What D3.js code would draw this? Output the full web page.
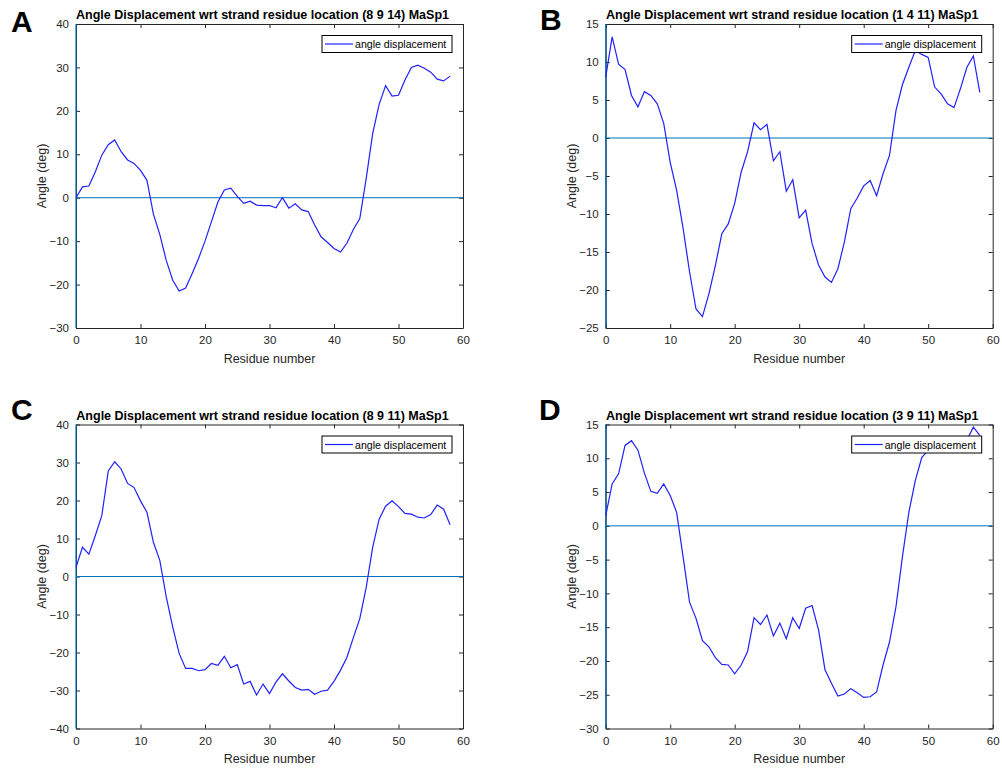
<!DOCTYPE html>
<html>
<head>
<meta charset="utf-8">
<script src="https://cdn.jsdelivr.net/npm/d3@7"></script>
<style>
  body { margin: 0; background: #fff; }
  svg { font-family: "Liberation Sans", Arial, sans-serif; }
</style>
</head>
<body>
<svg width="1002" height="769"></svg>
<script>
// residue index 0..58
const residues = d3.range(0, 59);

const angleA = [0, 2.5, 2.7, 6.0, 9.8, 12.2, 13.3, 10.6, 8.7, 7.9,
  6.3, 4.0, -3.8, -8.5, -14.5, -19.0, -21.5, -20.8, -17.5, -14.0,
  -10.0, -5.5, -1.0, 1.8, 2.2, 0.3, -1.3, -0.8, -1.7, -1.8,
  -1.8, -2.3, 0, -2.4, -1.4, -2.8, -3.2, -6.3, -9.0, -10.3,
  -11.7, -12.5, -10.5, -7.3, -4.8, 4.5, 14.8, 21.5, 25.8, 23.4,
  23.6, 27.1, 30.0, 30.5, 29.8, 28.9, 27.3, 26.9, 28.0];

const angleB = [8.0, 13.3, 9.7, 9.0, 5.6, 4.1, 6.1, 5.6, 4.5, 1.9,
  -3.2, -6.9, -11.9, -17.6, -22.5, -23.5, -20.5, -16.8, -12.6, -11.3,
  -8.6, -4.5, -1.8, 2.0, 1.1, 1.8, -3.0, -1.8, -7.0, -5.5,
  -10.5, -9.5, -13.9, -16.7, -18.3, -19.0, -17.2, -13.7, -9.3, -7.9,
  -6.3, -5.6, -7.6, -4.7, -2.3, 3.6, 7.0, 9.3, 11.5, 11.0,
  10.6, 6.7, 5.8, 4.5, 4.0, 6.5, 9.3, 10.8, 6.0];

const angleC = [2.4, 7.7, 5.9, 10.8, 16.0, 27.8, 30.2, 28.3, 24.5, 23.4,
  19.9, 16.9, 9.0, 4.2, -5.4, -13.3, -20.3, -24.2, -24.2, -24.8,
  -24.5, -22.9, -23.4, -21.0, -24.0, -23.2, -28.3, -27.6, -31.2, -28.3,
  -30.8, -27.8, -25.6, -27.5, -29.2, -29.9, -29.7, -31.0, -30.2, -29.9,
  -27.6, -24.7, -21.3, -16.1, -11.1, -2.8, 7.7, 15.1, 18.5, 19.9,
  18.4, 16.6, 16.4, 15.6, 15.4, 16.3, 18.8, 17.7, 13.6];

const angleD = [1.5, 6.2, 7.7, 11.9, 12.6, 11.2, 7.8, 5.1, 4.8, 6.2,
  4.5, 2.0, -4.6, -11.3, -13.7, -17.0, -17.9, -19.5, -20.5, -20.6,
  -21.9, -20.6, -18.6, -13.6, -14.6, -13.2, -16.3, -14.4, -16.7, -13.6,
  -15.2, -12.2, -11.8, -15.4, -21.3, -23.3, -25.2, -24.9, -24.1, -24.7,
  -25.4, -25.3, -24.6, -20.6, -17.2, -12.0, -4.6, 2.0, 6.7, 10.1,
  11.2, 11.8, 12.0, 11.8, 12.0, 12.2, 12.7, 14.6, 13.4];

const panelLetters = ['A', 'B', 'C', 'D'];
const locations = ['(8 9 14)', '(1 4 11)', '(8 9 11)', '(3 9 11)'];
const yDomains = [[-30, 40], [-25, 15], [-40, 40], [-30, 15]];
const yTicks = [d3.range(-30, 41, 10), d3.range(-25, 16, 5), d3.range(-40, 41, 10), d3.range(-30, 16, 5)];
const xTicks = [0, 10, 20, 30, 40, 50, 60];
const series = [angleA, angleB, angleC, angleD];

const svg = d3.select('svg');

const plotW = 387, plotH = 304;
const origins = [[76, 24], [605.7, 24], [76, 424.5], [605.7, 424.5]];
const letterPos = [[11, 32], [540, 30], [11, 420], [539, 420]];

const axisColor = '#262626';
const zeroColor = '#0072BD';
const lineColor = '#2020ff';

const drawPanel = (i) => {
  const [ox, oy] = origins[i];
  const x = d3.scaleLinear().domain([0, 60]).range([0, plotW]);
  const y = d3.scaleLinear().domain(yDomains[i]).range([plotH, 0]);

  svg.append('text')
    .attr('x', letterPos[i][0]).attr('y', letterPos[i][1])
    .attr('font-size', 30).attr('font-weight', 'bold')
    .text(panelLetters[i]);

  const g = svg.append('g').attr('transform', `translate(${ox},${oy})`);

  g.append('rect').attr('width', plotW).attr('height', plotH).attr('fill', '#fff');

  // axes: ticks inward, box on
  const bottom = g.append('g').attr('transform', `translate(0,${plotH})`)
    .call(d3.axisBottom(x).tickValues(xTicks).tickSizeInner(-4).tickSizeOuter(0).tickPadding(8));
  const top = g.append('g')
    .call(d3.axisTop(x).tickValues(xTicks).tickSizeInner(-4).tickSizeOuter(0).tickFormat(''));
  const left = g.append('g')
    .call(d3.axisLeft(y).tickValues(yTicks[i]).tickSizeInner(-4).tickSizeOuter(0).tickPadding(7));
  const right = g.append('g').attr('transform', `translate(${plotW},0)`)
    .call(d3.axisRight(y).tickValues(yTicks[i]).tickSizeInner(-4).tickSizeOuter(0).tickFormat(''));

  [bottom, top, left, right].forEach(a => {
    a.select('.domain').attr('stroke', axisColor).attr('stroke-width', 1);
    a.selectAll('.tick line').attr('stroke', axisColor).attr('stroke-width', 1);
    a.selectAll('.tick text').attr('fill', axisColor).attr('font-size', 11.5)
      .attr('font-family', '"Liberation Sans", Arial, sans-serif');
  });

  // zero lines
  g.append('line')
    .attr('x1', 0).attr('x2', plotW).attr('y1', y(0)).attr('y2', y(0))
    .attr('stroke', zeroColor).attr('stroke-width', 1);
  g.append('line')
    .attr('x1', x(0)).attr('x2', x(0)).attr('y1', 0).attr('y2', plotH)
    .attr('stroke', zeroColor).attr('stroke-width', 1.2);

  const line = d3.line()
    .x((d, k) => x(residues[k]))
    .y(d => y(d));

  g.append('path')
    .datum(series[i])
    .attr('d', line)
    .attr('fill', 'none')
    .attr('stroke', lineColor)
    .attr('stroke-width', 1.2);

  // legend
  const lg = g.append('g').attr('transform', `translate(${plotW - 141},11.5)`);
  lg.append('rect').attr('width', 130).attr('height', 17)
    .attr('fill', '#fff').attr('stroke', '#000').attr('stroke-width', 1);
  lg.append('line').attr('x1', 3).attr('x2', 31).attr('y1', 8.5).attr('y2', 8.5)
    .attr('stroke', lineColor).attr('stroke-width', 1.2);
  lg.append('text').attr('x', 33).attr('y', 12.5)
    .attr('font-size', 10.6).attr('fill', '#000')
    .text('angle displacement');

  // title
  g.append('text')
    .attr('x', plotW / 2 - 7).attr('y', -5)
    .attr('text-anchor', 'middle')
    .attr('font-size', 12.5).attr('font-weight', 'bold')
    .text(`Angle Displacement wrt strand residue location ${locations[i]} MaSp1`);

  // axis labels
  g.append('text')
    .attr('x', plotW / 2).attr('y', plotH + 34.5)
    .attr('text-anchor', 'middle')
    .attr('font-size', 12.5).attr('fill', axisColor)
    .text('Residue number');

  g.append('text')
    .attr('transform', `translate(-30,${plotH / 2}) rotate(-90)`)
    .attr('text-anchor', 'middle')
    .attr('font-size', 12.5).attr('fill', axisColor)
    .text('Angle (deg)');
};

d3.range(4).forEach(drawPanel);
</script>
</body>
</html>
